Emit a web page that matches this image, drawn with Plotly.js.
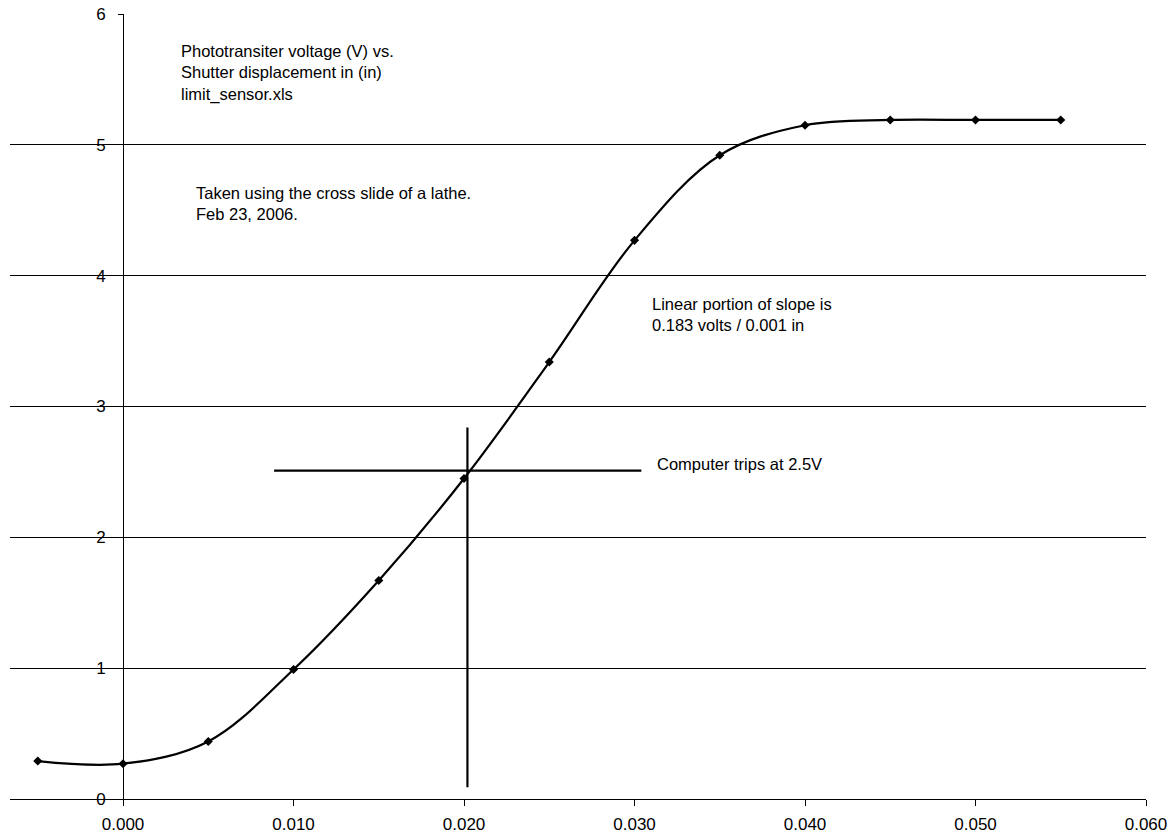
<!DOCTYPE html>
<html>
<head>
<meta charset="utf-8">
<script src="https://cdn.plot.ly/plotly-3.0.1.min.js"></script>
<style>html,body{margin:0;padding:0;background:#fff;}#chart{width:1172px;height:836px;}</style>
</head>
<body>
<div id="chart"></div>
<script>
// Shutter displacement (in) and phototransistor voltage (V)
const displacement = [-0.005, 0.000, 0.005, 0.010, 0.015, 0.020, 0.025, 0.030, 0.035, 0.040, 0.045, 0.050, 0.055];
const voltage      = [0.29, 0.27, 0.44, 0.99, 1.67, 2.45, 3.34, 4.27, 4.92, 5.15, 5.19, 5.19, 5.19];
// Trip-point crosshair
const tripHX = [0.00886, 0.0304];
const tripHY = [2.51, 2.51];
const tripVX = [0.0202, 0.0202];
const tripVY = [0.09, 2.84];
const yTicks = [0, 1, 2, 3, 4, 5, 6];
const xTicks = [0.000, 0.010, 0.020, 0.030, 0.040, 0.050, 0.060];

const tickFont = {family: 'Liberation Sans, Arial, sans-serif', size: 17, color: '#000'};
const noteFont = {family: 'Liberation Sans, Arial, sans-serif', size: 16.5, color: '#000'};
const xMin = -0.00663, xMax = 0.0600;

const traces = [
  {x: displacement, y: voltage, mode: 'lines+markers', type: 'scatter',
   line: {color: '#000', width: 2.2, shape: 'spline', smoothing: 1},
   marker: {symbol: 'diamond', size: 7, color: '#000'}, hoverinfo: 'x+y'},
  {x: tripHX, y: tripHY, mode: 'lines', type: 'scatter', line: {color: '#000', width: 2.2}, hoverinfo: 'skip'},
  {x: tripVX, y: tripVY, mode: 'lines', type: 'scatter', line: {color: '#000', width: 2.2}, hoverinfo: 'skip'}
];

function px2paperX(px){ return (px - 10) / 1136; }
function px2paperY(py){ return (799 - py) / 785; }

const layout = {
  width: 1172, height: 836,
  margin: {l: 10, r: 26, t: 14, b: 37},
  paper_bgcolor: '#fff', plot_bgcolor: '#fff',
  showlegend: false,
  font: tickFont,
  xaxis: {
    range: [xMin, xMax], tickvals: xTicks, tickformat: '.3f',
    showgrid: false, zeroline: false, showline: true, linecolor: '#000', linewidth: 1,
    ticks: 'outside', ticklen: 6, tickcolor: '#000', ticklabelstandoff: 4,
    tickfont: tickFont
  },
  yaxis: {
    range: [0, 6], tickvals: yTicks,
    anchor: 'free', position: (0 - xMin) / (xMax - xMin),
    showgrid: true, gridcolor: '#000', gridwidth: 1,
    zeroline: false, showline: true, linecolor: '#000', linewidth: 1,
    ticks: 'outside', ticklen: 5, tickcolor: '#000', ticklabelstandoff: 9,
    tickfont: tickFont
  },
  annotations: [
    {xref: 'paper', yref: 'paper', x: px2paperX(179), y: px2paperY(40), xanchor: 'left', yanchor: 'top', align: 'left', showarrow: false,
     text: 'Phototransiter voltage (V) vs.<br>Shutter displacement in (in)<br>limit_sensor.xls', font: noteFont},
    {xref: 'paper', yref: 'paper', x: px2paperX(194), y: px2paperY(182), xanchor: 'left', yanchor: 'top', align: 'left', showarrow: false,
     text: 'Taken using the cross slide of a lathe.<br>Feb 23, 2006.', font: noteFont},
    {xref: 'paper', yref: 'paper', x: px2paperX(650), y: px2paperY(293), xanchor: 'left', yanchor: 'top', align: 'left', showarrow: false,
     text: 'Linear portion of slope is<br>0.183 volts / 0.001 in', font: noteFont},
    {xref: 'paper', yref: 'paper', x: px2paperX(655), y: px2paperY(453), xanchor: 'left', yanchor: 'top', align: 'left', showarrow: false,
     text: 'Computer trips at 2.5V', font: noteFont}
  ]
};

Plotly.newPlot('chart', traces, layout, {displayModeBar: false, staticPlot: true});
</script>
</body>
</html>
